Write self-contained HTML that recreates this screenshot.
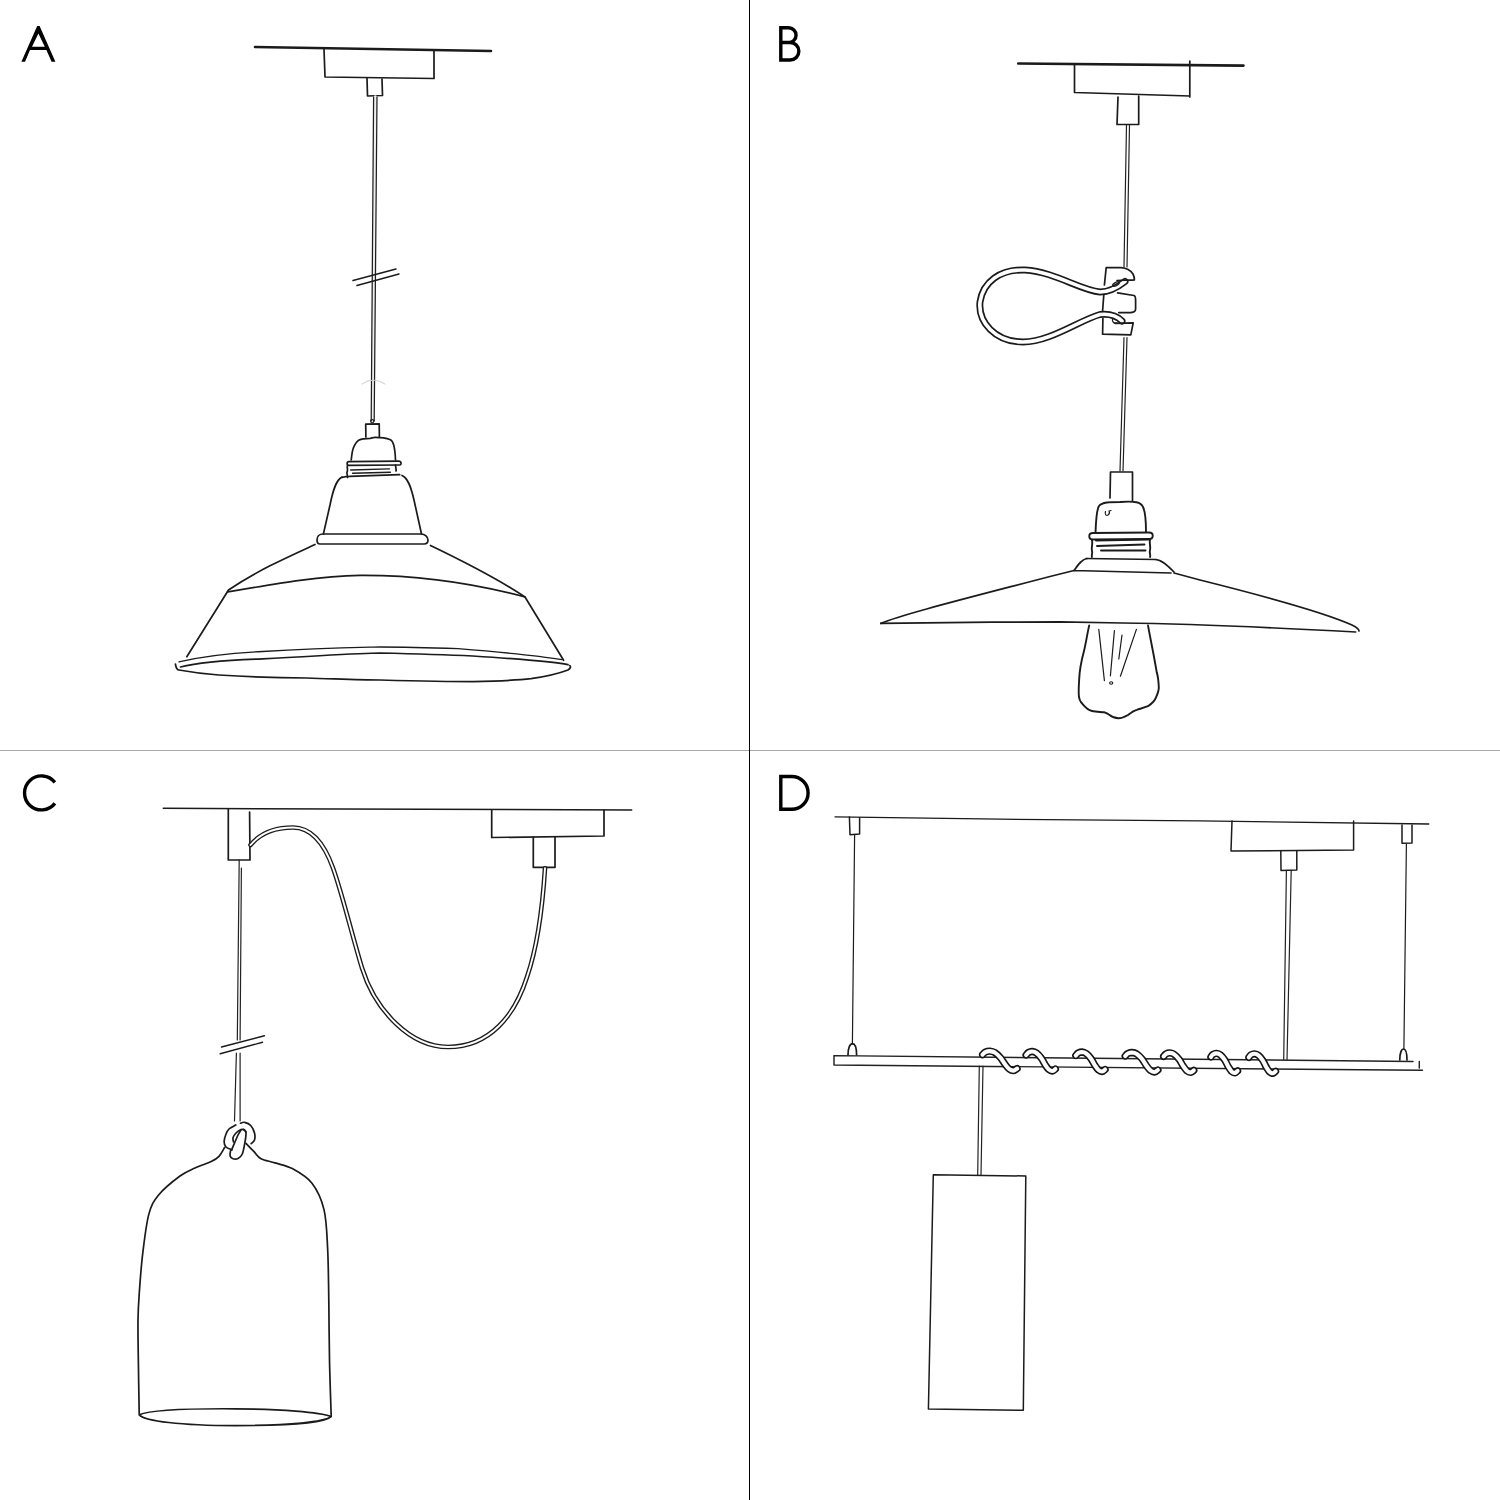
<!DOCTYPE html>
<html><head><meta charset="utf-8"><title>Pendant lamps</title>
<style>html,body{margin:0;padding:0;background:#fff;width:1500px;height:1500px;overflow:hidden}svg{display:block}</style>
</head><body>
<svg width="1500" height="1500" viewBox="0 0 1500 1500">
<rect width="1500" height="1500" fill="#fff"/>
<line x1="0" y1="750.5" x2="1500" y2="750.5" stroke="#aaaaaa" stroke-width="1"/>
<line x1="749.5" y1="0" x2="749.5" y2="1500" stroke="#000" stroke-width="1"/>
<g fill="none" stroke="#000" stroke-width="3.4">
<path d="M21.4,61.8 L37.2,26 L39.6,26 L55.4,61.8 L51.6,61.8 L46.4,50 L30,50 L25,61.8 Z M32,46.8 L44.8,46.8 L38.4,33.4 Z" fill="#000" stroke="none" fill-rule="evenodd"/>
<path d="M780.8,61.8 V27.8 H788.7 A7.35,7.35 0 0 1 788.7,42.5 H780.8 H790.1 A8.75,8.75 0 0 1 790.1,60 H779.1"/>
<path d="M54.9,782.4 A17,17 0 1 0 54.9,803.4"/>
<path d="M780.8,811 V776.5 H791.7 A16.4,16.4 0 0 1 791.7,809.3 H779.1"/>
</g>
<g fill="none" stroke="#1b1b1b" stroke-width="1.7" stroke-linecap="round" stroke-linejoin="round">
<!-- ===== A ===== -->
<path d="M255,47 L491,51" stroke-width="2.6"/>
<path d="M324,49 L325,77 L434,78.5 L434,50"/>
<path d="M367,78 L367.5,96 L382.5,95.5 L382,79"/>
<path d="M375.3,97 L372.7,421" stroke-width="3.4" stroke="#eeeeee"/>
<path d="M373.6,97 L371.2,421 M377,97 L374.2,421" stroke-width="1.25" stroke="#1e1e1e"/>
<path d="M353,280.5 L396,269 M357,285.5 L399,274" stroke-width="1.5"/>
<path d="M362,384 Q373,376 385,384" stroke="#ccc" stroke-width="1"/>
<path d="M365.9,437 L365.7,424.2 L379.2,423.9 L379.4,437"/>
<circle cx="372.2" cy="421.2" r="1.6" stroke-width="1.1"/>
<path d="M351.2,460 C352,453 352.8,449 353.5,447.7 C355,444 356.5,441.5 358.7,440.2 C362,438.5 366,438.3 370.3,438.3 C372,438 373.5,437.4 375,437.4 C380,437.4 386,438 390.4,439.7 C392,440.5 393,442.5 393.7,444.9 C394.8,449 395.3,454 395.5,460"/>
<path d="M349,461.7 L398.8,461.2 C401.5,461.2 401.8,465 399.7,465 L349,465.4 C346.5,465.4 346.5,461.7 349,461.7 Z"/>
<path d="M347.5,465.5 C346.5,468 348.5,470 347,472 C346.5,474 348,475.5 347.5,477.5 M395.5,465 C395.5,467 396.5,469 396,471"/>
<path d="M350.7,470 L389.5,468.9 M352.6,473.3 L390.4,472.2" stroke-width="1.4"/>
<path d="M342,477.5 C345,476.5 347,476.3 349.3,476.3 L399.7,474.7"/>
<path d="M342,477 C336,480 333,490 330,505 L323.4,534 M402,475.5 C408,478 411,487 414,500 L421.5,534"/>
<path d="M323,534 L421,534 C425,534 428,537 428,540 C428,543 426,544 424,544 L320,544 C318,544 317,542 317,540 C317,537 319,534 323,534 Z"/>
<path d="M315,544.5 C290,556 258,570 228.5,590 L186.8,656.7 M430.5,545.4 C465,562 500,580 525,597 L563.6,660.3"/>
<path d="M227.5,592 C280,583 320,576 360,575.4 C420,575 480,585 525,597"/>
<path d="M179,661.8 C200,657 230,653 262.7,651.5 C320,648 360,647.5 380,647 C410,647 440,648 458,648.6 C500,652 540,656 562,659.6" stroke-width="1.3"/>
<path d="M180.5,667 C200,662 230,660 262.7,658.9 C320,656 360,653 380,653 C420,654 450,655 472.7,656 C520,659 550,661 568,664.7"/>
<path d="M175.4,664 C176,668 177,670 179,670 C190,672 205,674 218.7,675 C250,677 280,678 306.7,678 C340,679 360,680 380,680 C420,681 450,681.6 472.7,681.6 C500,681 520,680 531,678.7 C550,676 560,673 568,670 C571,668 571,666 569.5,665.5"/>
<!-- ===== B ===== -->
<path d="M1018.2,63.5 L1243.5,65.6" stroke-width="2.6"/>
<path d="M1074.5,64 L1074.5,92.5 L1189.8,96 M1189.8,61 L1189.8,97"/>
<path d="M1118,97 L1117,124.5 L1138.7,124.5 L1138.7,96"/>
<path d="M1126.5,125 L1124,267 M1129.5,125 L1127,267" stroke-width="1.2" stroke="#222"/>
<path d="M1124,337.5 L1120,471 M1127,337.5 L1123,471" stroke-width="1.2" stroke="#222"/>
<!-- loop tube -->
<path d="M1125,281.5 C1118,287 1110,292 1100,292 C1080,290 1055,272 1025,270 C1000,269 983,282 980,302 C978,322 995,342 1023,342 C1050,342 1080,320 1100,314.5 C1110,313.5 1117,316 1122,321" stroke-width="7" stroke="#1b1b1b"/>
<path d="M1125,281.5 C1118,287 1110,292 1100,292 C1080,290 1055,272 1025,270 C1000,269 983,282 980,302 C978,322 995,342 1023,342 C1050,342 1080,320 1100,314.5 C1110,313.5 1117,316 1122,321" stroke-width="3.6" stroke="#fff"/>
<!-- clip pieces -->
<path d="M1104.4,285 L1106.2,267.6 L1121.2,267.6 C1127,268 1131,271 1133,274 C1134.5,277 1134.5,279 1134.4,280 L1132.6,280.2 C1127,280 1121,280 1117,280.5"/>
<ellipse cx="1116" cy="284" rx="3.6" ry="1.6" transform="rotate(-28 1116 284)" stroke-width="1.3"/>
<path d="M1103.8,294.6 L1102.6,310.8 M1117.6,292.8 L1134,295.5 C1135.6,296 1135.6,297 1135.6,300 L1135.6,309 C1135.6,311.5 1133,312.6 1130,312.6 L1118.8,312.6"/>
<path d="M1102.9,318.6 L1102.6,334.2 L1130.8,334.8 L1133.2,322.8 L1115.2,323.4"/>
<path d="M1112.5,319.5 C1112,322 1114,323.5 1117,323" stroke-width="1.3"/>
<!-- socket -->
<path d="M1110,498 L1110.5,472 L1132.5,472 L1132.5,501"/>
<path d="M1095.5,533 C1096,518 1097,509 1099,506 C1102,502 1110,502 1120,502 C1135,501 1141,502 1143,507 C1146,513 1146,524 1146,532" stroke-width="1.9"/>
<path d="M1093,533 L1149,532.5 C1154,532.5 1154,539 1149,539 L1093,539.5 C1088,539.5 1088,533 1093,533 Z" stroke-width="1.9"/>
<path d="M1092,540 C1093,545 1091,548 1092,551 C1093,553 1091,555 1092,557 M1150,539.5 C1149,544 1151,547 1150,550 C1149,553 1151,555 1150,557" stroke-width="1.9"/>
<path d="M1096,540.5 L1149,539.5 M1097,546 L1144.5,544.5 M1101,550.5 L1145.5,550.5" stroke-width="1.9"/>
<path d="M1086,558.5 L1156,559.5"/>
<path d="M1074,570.5 C1078,565 1082,559 1087,558.5 M1156,559.5 C1162,560 1168,566 1174,572 M1074,570.5 L1171,573"/>
<!-- shade -->
<path d="M880.8,623.4 C900,615 960,600 1050,576.5 L1074,570.5 M1174,573 L1200,580 C1280,600 1330,615 1352,625 C1358,628 1359,630 1359,631"/>
<path d="M881,623.4 C900,623 1000,622 1060,621.8 L1122.4,623 C1200,624 1300,629 1355.7,632"/>
<!-- bulb -->
<path d="M1089.2,625.4 C1087,635 1086,643 1084,651 C1081,662 1079.5,672 1079.2,679 C1078.8,685 1078.5,690 1078.8,695 C1079,699 1080.5,702 1082.4,703.8 C1085,707 1088,710 1092,711 C1096,712 1100,711.8 1104,712.2 C1106,713 1108,714 1109.6,715 C1112,717 1115,718.2 1118.4,718.2 C1122,718.2 1125,716.8 1128,715 C1131,712.5 1134,710.5 1136.8,709.8 C1141,708.5 1145,707.5 1148,706.2 C1152,703.5 1155,700.5 1156,697.4 C1158,693 1159,690 1158.8,687 C1158.5,681 1158,676 1156.8,672.6 C1153,650 1150,637 1148,625.4" stroke-width="1.9"/>
<path d="M1098.8,629.4 L1104.4,680.6 M1114.4,630.6 L1110.4,675.8 M1122,635 L1118.8,659 M1136.4,629.4 L1120.4,676.2" stroke-width="1.2"/>
<ellipse cx="1111.2" cy="683" rx="1.6" ry="1.2" stroke-width="1.1"/>
<path d="M1105.5,511.5 C1104.5,514.5 1106,516 1108,515 C1109.5,514 1109.5,512 1109,511 L1111,510.5" stroke-width="1.2"/>
<!-- ===== C ===== -->
<path d="M163.3,808.3 L631.7,810" stroke-width="1.5"/>
<path d="M228.3,809 L228.3,860 L250,860 L249.6,812" />
<path d="M491.7,810 L491.7,837.5 L604,836 L604,810" />
<path d="M533.3,837 L533.3,867.3 L555,867.3 L555,837" />
<path d="M250.5,845 C262,831 280,827.5 293,827.5 C312,827.5 324,843 333,868 C342,893 352,935 362,968 C375,1010 410,1047 448,1047 C490,1047 515,1015 527,977 C538,945 543,900 545,868.3" stroke-width="4.6" stroke="#1b1b1b"/>
<path d="M250.5,845 C262,831 280,827.5 293,827.5 C312,827.5 324,843 333,868 C342,893 352,935 362,968 C375,1010 410,1047 448,1047 C490,1047 515,1015 527,977 C538,945 543,900 545,868.3" stroke-width="1.9" stroke="#fff"/>
<path d="M239.2,860 L237.3,1040 M241.4,868 L240.1,1040" stroke-width="1.2" stroke="#222"/>
<path d="M236.4,1053 L234.5,1121 M240.1,1053 L240.1,1121" stroke-width="1.2" stroke="#222"/>
<path d="M221.5,1047 L264.4,1035.7 M220.2,1053.8 L262.5,1042.3" stroke-width="1.4"/>
<path d="M235.8,1125 C234.7,1125.7 230.6,1127.5 229,1129 C227.4,1130.5 226.8,1131.9 226,1134 C225.2,1136.1 224.1,1139.2 224.1,1141.4 C224.1,1143.6 224.7,1145.6 226,1147 C227.3,1148.4 231,1149.3 232,1149.8" />
<path d="M240.5,1123.2 C241.2,1123 243,1121.9 244.7,1122.3 C246.4,1122.7 249.1,1123.7 250.7,1125.5 C252.3,1127.3 253.9,1130.6 254.5,1133 C255.1,1135.4 255.1,1138.2 254.5,1140 C253.9,1141.8 251.8,1143.1 251.2,1143.7" />
<path d="M246,1132 C245.8,1131.7 245.3,1130.4 244.5,1130 C243.7,1129.6 242.4,1129 241,1129.5 C239.6,1130 237.3,1131.6 236,1133 C234.7,1134.4 233.4,1136.2 233,1137.7 C232.6,1139.2 233.4,1141.3 233.5,1142" />
<path d="M243.7,1129.3 C244.1,1129.9 245.8,1130.9 246,1133 C246.2,1135.1 245.6,1138.5 245,1142 C244.4,1145.5 243.5,1151.2 242.3,1154 C241.1,1156.8 239.6,1157.7 238,1158.5 C236.4,1159.3 234.3,1159.1 233,1158.7 C231.7,1158.3 230.6,1157.6 230.2,1156.3 C229.8,1155 230.2,1152.2 230.5,1151 C230.8,1149.8 230.8,1151.7 232,1149 C233.2,1146.3 236.5,1138.2 238,1135 C239.5,1131.8 240.5,1130.8 241,1130" />
<path d="M224.6,1147.5 C223.7,1149 221.2,1154 219,1156.3 C216.8,1158.6 215.2,1159.6 211.2,1161.6 C207.2,1163.5 200.2,1165.6 195,1168 C189.8,1170.4 186.1,1171.5 180,1176 C173.9,1180.5 163.6,1188.8 158.4,1195.2 C153.2,1201.6 151.4,1204.8 148.8,1214.4 C146.2,1224 144.4,1240.2 142.8,1252.8 C141.2,1265.4 140.3,1278.8 139.5,1290 C138.7,1301.2 138.2,1306.7 138,1320 C137.8,1333.3 138.3,1354.4 138.5,1370 C138.7,1385.6 139.1,1406.3 139.2,1413.6" />
<path d="M246,1143.3 C247.3,1144.7 251.5,1149.1 254,1151.7 C256.5,1154.3 257.5,1156.8 261,1158.7 C264.5,1160.6 269.7,1161.2 275,1162.9 C280.3,1164.6 286.6,1165.4 292.8,1168.8 C299,1172.2 306.8,1176.4 312,1183.2 C317.2,1190 321.4,1198.8 324,1209.6 C326.6,1220.4 326.8,1232.9 327.6,1248 C328.4,1263.1 328.5,1281.3 328.8,1300 C329.1,1318.7 329.1,1340.7 329.5,1360 C329.9,1379.3 330.9,1406.7 331.2,1416" />
<path d="M139.2,1414.8 C150,1410 190,1408.5 235.2,1408.8 C280,1409 320,1412 331.2,1416.5 C325,1422 290,1425.6 235.2,1425.6 C180,1425.6 145,1421 139.2,1414.8 Z" />
<!-- ===== D ===== -->
<path d="M835,816.8 L1000,819.2 L1200,820.8 L1428.8,824" stroke-width="1.3"/>
<path d="M849.4,817 L850,834.8 L859.6,834 L859.6,818" stroke-width="1.5"/>
<path d="M854.6,835 L852.4,1044" stroke-width="1.2"/>
<path d="M848,1055 C848,1048 850,1043.6 852.4,1043.6 C855,1043.6 856.6,1048 856.6,1055" />
<path d="M1402,825 L1402,843.2 L1412,843 L1412,825" stroke-width="1.5"/>
<path d="M1406.4,844 L1403.9,1049" stroke-width="1.2"/>
<path d="M1399.8,1060 C1399.8,1053 1401.5,1049 1403.5,1049 C1406,1049 1407,1053 1407,1060" />
<path d="M1232,821 L1231,851 L1353.6,850 L1353.6,821" stroke-width="1.5"/>
<path d="M1280.8,851 L1281,870.4 L1296.8,870 L1296.8,851" stroke-width="1.5"/>
<path d="M1286.4,870.4 L1283.7,1059.7 M1291.2,870.4 L1287,1059.7" stroke-width="1.2" stroke="#222"/>
<path d="M834,1055.6 L1413,1061.5 M834,1065 L1422.5,1070.3 M834,1055.6 L834,1065 M1419.3,1061.5 L1419.3,1068" stroke-width="1.45" stroke="#222"/>
<path d="M979.3,1066 L977.7,1175 M983,1066 L981,1175" stroke-width="1.2" stroke="#222"/>
<path d="M933.3,1174.7 L1025.8,1176 L1023.3,1410.3 L928.4,1409 Z" stroke-width="1.5"/>
<path d="M982.6,1054.6 C983.1,1054.2 984.2,1052.7 985.4,1052.1 C986.6,1051.5 988.3,1051 989.9,1051.1 C991.4,1051.2 993.1,1051.5 994.9,1052.6 C996.6,1053.7 998.7,1055.7 1000.4,1057.6 C1002.1,1059.5 1003.4,1062.2 1004.9,1064.1 C1006.3,1066 1007.8,1068 1009.3,1069.1 C1010.8,1070.2 1012.4,1070.7 1013.7,1070.6 C1015,1070.5 1016.5,1068.9 1017.1,1068.6" stroke-width="7.3" stroke="#151515" stroke-linecap="round"/>
<path d="M982.6,1054.6 C983.1,1054.2 984.2,1052.7 985.4,1052.1 C986.6,1051.5 988.3,1051 989.9,1051.1 C991.4,1051.2 993.1,1051.5 994.9,1052.6 C996.6,1053.7 998.7,1055.7 1000.4,1057.6 C1002.1,1059.5 1003.4,1062.2 1004.9,1064.1 C1006.3,1066 1007.8,1068 1009.3,1069.1 C1010.8,1070.2 1012.4,1070.7 1013.7,1070.6 C1015,1070.5 1016.5,1068.9 1017.1,1068.6" stroke-width="4.1" stroke="#fcfcfc" stroke-linecap="round"/>
<path d="M1026.1,1055 C1026.5,1054.6 1027.5,1053.1 1028.5,1052.5 C1029.5,1051.9 1030.9,1051.4 1032.3,1051.5 C1033.6,1051.6 1035,1051.9 1036.5,1053 C1038,1054.1 1039.8,1056.1 1041.2,1058 C1042.7,1059.9 1043.8,1062.6 1045,1064.5 C1046.3,1066.4 1047.5,1068.4 1048.8,1069.5 C1050.1,1070.6 1051.5,1071.1 1052.6,1071 C1053.7,1070.9 1054.9,1069.4 1055.4,1069" stroke-width="7.3" stroke="#151515" stroke-linecap="round"/>
<path d="M1026.1,1055 C1026.5,1054.6 1027.5,1053.1 1028.5,1052.5 C1029.5,1051.9 1030.9,1051.4 1032.3,1051.5 C1033.6,1051.6 1035,1051.9 1036.5,1053 C1038,1054.1 1039.8,1056.1 1041.2,1058 C1042.7,1059.9 1043.8,1062.6 1045,1064.5 C1046.3,1066.4 1047.5,1068.4 1048.8,1069.5 C1050.1,1070.6 1051.5,1071.1 1052.6,1071 C1053.7,1070.9 1054.9,1069.4 1055.4,1069" stroke-width="4.1" stroke="#fcfcfc" stroke-linecap="round"/>
<path d="M1075.8,1055.5 C1076.2,1055.1 1077.2,1053.6 1078.2,1053 C1079.2,1052.5 1080.6,1052 1082,1052 C1083.3,1052.1 1084.7,1052.5 1086.2,1053.5 C1087.7,1054.6 1089.5,1056.6 1090.9,1058.5 C1092.4,1060.5 1093.5,1063.1 1094.7,1065 C1096,1067 1097.2,1069 1098.5,1070 C1099.8,1071.1 1101.2,1071.6 1102.3,1071.5 C1103.4,1071.5 1104.6,1069.9 1105.1,1069.5" stroke-width="7.3" stroke="#151515" stroke-linecap="round"/>
<path d="M1075.8,1055.5 C1076.2,1055.1 1077.2,1053.6 1078.2,1053 C1079.2,1052.5 1080.6,1052 1082,1052 C1083.3,1052.1 1084.7,1052.5 1086.2,1053.5 C1087.7,1054.6 1089.5,1056.6 1090.9,1058.5 C1092.4,1060.5 1093.5,1063.1 1094.7,1065 C1096,1067 1097.2,1069 1098.5,1070 C1099.8,1071.1 1101.2,1071.6 1102.3,1071.5 C1103.4,1071.5 1104.6,1069.9 1105.1,1069.5" stroke-width="4.1" stroke="#fcfcfc" stroke-linecap="round"/>
<path d="M1125.2,1056 C1125.6,1055.6 1126.7,1054.1 1127.8,1053.5 C1128.9,1053 1130.5,1052.5 1132,1052.5 C1133.5,1052.6 1135.1,1053 1136.8,1054 C1138.4,1055.1 1140.5,1057.1 1142.1,1059 C1143.6,1061 1144.9,1063.6 1146.3,1065.5 C1147.7,1067.5 1149.1,1069.5 1150.5,1070.5 C1151.9,1071.6 1153.5,1072.1 1154.7,1072 C1156,1072 1157.4,1070.4 1157.9,1070" stroke-width="7.3" stroke="#151515" stroke-linecap="round"/>
<path d="M1125.2,1056 C1125.6,1055.6 1126.7,1054.1 1127.8,1053.5 C1128.9,1053 1130.5,1052.5 1132,1052.5 C1133.5,1052.6 1135.1,1053 1136.8,1054 C1138.4,1055.1 1140.5,1057.1 1142.1,1059 C1143.6,1061 1144.9,1063.6 1146.3,1065.5 C1147.7,1067.5 1149.1,1069.5 1150.5,1070.5 C1151.9,1071.6 1153.5,1072.1 1154.7,1072 C1156,1072 1157.4,1070.4 1157.9,1070" stroke-width="4.1" stroke="#fcfcfc" stroke-linecap="round"/>
<path d="M1163.6,1056.4 C1164,1056 1165,1054.5 1166,1053.9 C1167.1,1053.3 1168.6,1052.8 1169.9,1052.9 C1171.3,1053 1172.8,1053.3 1174.3,1054.4 C1175.9,1055.5 1177.7,1057.5 1179.2,1059.4 C1180.6,1061.3 1181.8,1064 1183.1,1065.9 C1184.4,1067.8 1185.7,1069.8 1187,1070.9 C1188.2,1072 1189.7,1072.5 1190.8,1072.4 C1192,1072.3 1193.3,1070.8 1193.8,1070.4" stroke-width="7.3" stroke="#151515" stroke-linecap="round"/>
<path d="M1163.6,1056.4 C1164,1056 1165,1054.5 1166,1053.9 C1167.1,1053.3 1168.6,1052.8 1169.9,1052.9 C1171.3,1053 1172.8,1053.3 1174.3,1054.4 C1175.9,1055.5 1177.7,1057.5 1179.2,1059.4 C1180.6,1061.3 1181.8,1064 1183.1,1065.9 C1184.4,1067.8 1185.7,1069.8 1187,1070.9 C1188.2,1072 1189.7,1072.5 1190.8,1072.4 C1192,1072.3 1193.3,1070.8 1193.8,1070.4" stroke-width="4.1" stroke="#fcfcfc" stroke-linecap="round"/>
<path d="M1210.9,1056.9 C1211.2,1056.5 1212.1,1055 1213,1054.4 C1214,1053.8 1215.3,1053.3 1216.5,1053.4 C1217.7,1053.5 1219,1053.8 1220.4,1054.9 C1221.7,1056 1223.4,1058 1224.7,1059.9 C1226,1061.8 1227,1064.5 1228.1,1066.4 C1229.3,1068.3 1230.4,1070.3 1231.5,1071.4 C1232.7,1072.5 1234,1073 1235,1072.9 C1236,1072.8 1237.1,1071.2 1237.6,1070.9" stroke-width="7.3" stroke="#151515" stroke-linecap="round"/>
<path d="M1210.9,1056.9 C1211.2,1056.5 1212.1,1055 1213,1054.4 C1214,1053.8 1215.3,1053.3 1216.5,1053.4 C1217.7,1053.5 1219,1053.8 1220.4,1054.9 C1221.7,1056 1223.4,1058 1224.7,1059.9 C1226,1061.8 1227,1064.5 1228.1,1066.4 C1229.3,1068.3 1230.4,1070.3 1231.5,1071.4 C1232.7,1072.5 1234,1073 1235,1072.9 C1236,1072.8 1237.1,1071.2 1237.6,1070.9" stroke-width="4.1" stroke="#fcfcfc" stroke-linecap="round"/>
<path d="M1248.9,1057.3 C1249.2,1056.9 1250.1,1055.4 1251,1054.8 C1252,1054.2 1253.3,1053.7 1254.5,1053.8 C1255.7,1053.9 1257,1054.2 1258.4,1055.3 C1259.7,1056.4 1261.4,1058.4 1262.7,1060.3 C1264,1062.2 1265,1064.9 1266.1,1066.8 C1267.3,1068.7 1268.4,1070.7 1269.5,1071.8 C1270.7,1072.9 1272,1073.4 1273,1073.3 C1274,1073.2 1275.1,1071.6 1275.6,1071.3" stroke-width="7.3" stroke="#151515" stroke-linecap="round"/>
<path d="M1248.9,1057.3 C1249.2,1056.9 1250.1,1055.4 1251,1054.8 C1252,1054.2 1253.3,1053.7 1254.5,1053.8 C1255.7,1053.9 1257,1054.2 1258.4,1055.3 C1259.7,1056.4 1261.4,1058.4 1262.7,1060.3 C1264,1062.2 1265,1064.9 1266.1,1066.8 C1267.3,1068.7 1268.4,1070.7 1269.5,1071.8 C1270.7,1072.9 1272,1073.4 1273,1073.3 C1274,1073.2 1275.1,1071.6 1275.6,1071.3" stroke-width="4.1" stroke="#fcfcfc" stroke-linecap="round"/>
</g>
</svg>
</body></html>
